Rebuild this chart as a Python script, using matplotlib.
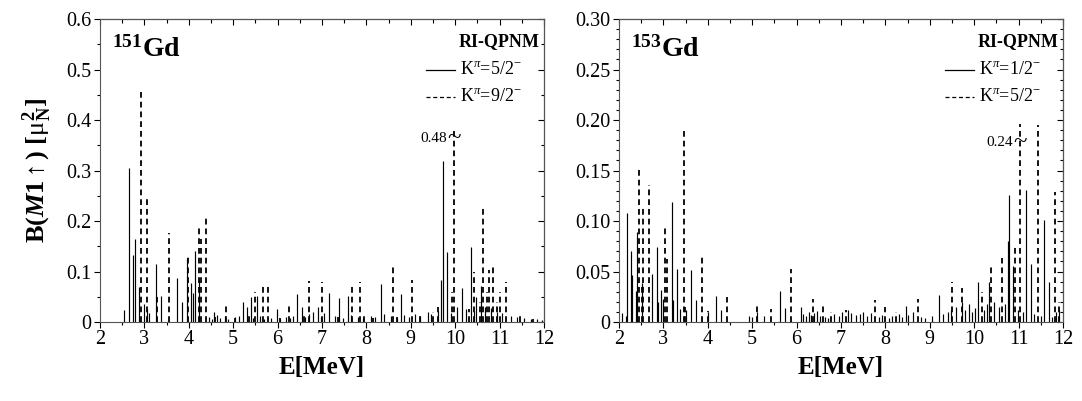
import numpy as np
import matplotlib
matplotlib.use("Agg")
from matplotlib import pyplot as plt
from matplotlib.ticker import MultipleLocator, FuncFormatter

plt.rcParams['font.family'] = ['Liberation Serif', 'DejaVu Serif']
plt.rcParams['mathtext.fontset'] = 'custom'
plt.rcParams['mathtext.rm'] = 'Liberation Serif'
plt.rcParams['mathtext.it'] = 'Liberation Serif:italic'
plt.rcParams['mathtext.bf'] = 'Liberation Serif:bold'
plt.rcParams['mathtext.bfit'] = 'Liberation Serif:italic:bold'

# ---- 151Gd, K=5/2- (solid) ----
gd151_k52_E = [2.54, 2.65, 2.75, 2.78, 2.89, 3.00, 3.05, 3.10, 3.27, 3.37, 3.74, 3.84, 3.95, 4.06,
               4.09, 4.13, 4.22, 4.57, 5.21, 5.30, 5.39, 5.53, 5.98, 6.44, 6.54, 6.80, 6.91, 7.16,
               7.39, 7.59, 8.33, 8.77, 9.69, 9.73, 9.82, 10.15, 10.36, 10.47, 10.58, 10.93]
gd151_k52_B = [0.024, 0.305, 0.133, 0.164, 0.070, 0.036, 0.025, 0.018, 0.115, 0.051, 0.087, 0.039,
               0.127, 0.077, 0.057, 0.140, 0.085, 0.020, 0.040, 0.030, 0.050, 0.052, 0.025, 0.055,
               0.030, 0.020, 0.030, 0.058, 0.047, 0.051, 0.075, 0.055, 0.083, 0.319, 0.138, 0.067,
               0.149, 0.050, 0.072, 0.020]
# weak transitions
gd151_k52_weak_E = [4.45, 4.52, 4.63, 4.70, 4.82, 4.88, 5.05, 5.12, 5.45, 5.60, 5.70, 5.85, 6.05,
                    6.18, 6.27, 6.35, 6.62, 6.70, 6.98, 7.05, 7.30, 7.48, 7.66, 7.82, 7.92, 8.10,
                    8.20, 8.40, 8.55, 8.68, 8.85, 8.95, 9.10, 9.20, 9.38, 9.45, 9.62, 9.90, 10.05,
                    10.25, 10.42, 10.68, 10.80, 11.05, 11.25, 11.40, 11.55, 11.70, 11.85, 11.95]
gd151_k52_weak_B = [0.010, 0.006, 0.014, 0.008, 0.012, 0.005, 0.009, 0.012, 0.007, 0.011, 0.006,
                    0.008, 0.005, 0.010, 0.007, 0.012, 0.009, 0.015, 0.010, 0.018, 0.012, 0.008,
                    0.014, 0.010, 0.007, 0.012, 0.009, 0.015, 0.011, 0.008, 0.013, 0.010, 0.016,
                    0.012, 0.020, 0.015, 0.022, 0.018, 0.030, 0.025, 0.022, 0.030, 0.028, 0.018,
                    0.012, 0.010, 0.008, 0.006, 0.005, 0.004]

# ---- 151Gd, K=9/2- (dashed) ----
gd151_k92_E = [2.92, 3.05, 3.28, 3.55, 3.98, 4.22, 4.28, 4.39, 4.60, 4.84, 5.05, 5.35, 5.48, 5.67,
               5.79, 6.05, 6.26, 6.60, 6.71, 7.00, 7.35, 7.67, 7.86, 7.95, 8.15, 8.59, 8.70, 9.03,
               9.20, 9.50, 9.62, 9.93, 9.98, 10.30, 10.43, 10.55, 10.62, 10.72, 10.75, 10.84,
               10.95, 11.00, 11.14, 11.45, 11.75]
gd151_k92_B = [0.456, 0.250, 0.050, 0.176, 0.130, 0.192, 0.164, 0.205, 0.010, 0.036, 0.008, 0.012,
               0.060, 0.071, 0.075, 0.008, 0.037, 0.015, 0.081, 0.080, 0.010, 0.071, 0.079, 0.012,
               0.008, 0.115, 0.010, 0.083, 0.012, 0.020, 0.030, 0.060, 0.480, 0.025, 0.100, 0.040,
               0.225, 0.060, 0.103, 0.109, 0.040, 0.060, 0.080, 0.012, 0.006]

# ---- 153Gd, K=1/2- (solid) ----
gd153_k12_E = [2.08, 2.16, 2.19, 2.27, 2.30, 2.38, 2.40, 2.51, 2.75, 2.85, 2.87, 2.95, 2.99, 3.19,
               3.21, 3.30, 3.37, 3.52, 3.62, 3.74, 4.00, 4.18, 4.29, 4.93, 5.00, 5.10, 5.27, 5.63,
               5.73, 6.09, 9.21, 9.47, 9.72, 9.88, 10.09, 10.34, 10.76, 10.78, 10.88, 11.16,
               11.28, 11.57, 11.69, 11.92]
gd153_k12_B = [0.009, 0.006, 0.108, 0.070, 0.047, 0.031, 0.089, 0.039, 0.0475, 0.074, 0.020,
               0.032, 0.023, 0.119, 0.022, 0.052, 0.013, 0.012, 0.051, 0.022, 0.010, 0.026, 0.012,
               0.006, 0.005, 0.010, 0.006, 0.031, 0.014, 0.015, 0.027, 0.012, 0.020, 0.018, 0.040,
               0.040, 0.080, 0.126, 0.055, 0.131, 0.057, 0.101, 0.040, 0.012]
gd153_k12_weak_E = [6.15, 6.22, 6.28, 6.33, 6.40, 6.45, 6.52, 6.65, 6.72, 6.85, 6.95, 7.02, 7.15,
                    7.22, 7.35, 7.42, 7.50, 7.58, 7.68, 7.85, 7.92, 8.08, 8.15, 8.30, 8.38, 8.46,
                    8.52, 8.62, 8.80, 8.90, 9.05, 9.30, 9.40, 9.60, 9.80, 9.95, 10.02, 10.22, 10.28,
                    10.45, 10.55, 10.70, 10.98, 11.10, 11.35, 11.50, 11.75, 11.85]
gd153_k12_weak_B = [0.008, 0.006, 0.010, 0.007, 0.009, 0.011, 0.006, 0.005, 0.004, 0.008, 0.006,
                    0.010, 0.012, 0.009, 0.007, 0.008, 0.010, 0.006, 0.009, 0.005, 0.007, 0.004,
                    0.006, 0.008, 0.005, 0.016, 0.007, 0.010, 0.005, 0.004, 0.006, 0.008, 0.010,
                    0.015, 0.012, 0.010, 0.014, 0.012, 0.018, 0.020, 0.015, 0.018, 0.012, 0.010,
                    0.008, 0.006, 0.005, 0.010]

# ---- 153Gd, K=5/2- (dashed) ----
gd153_k52_E = [2.45, 2.51, 2.55, 2.68, 3.03, 3.09, 3.46, 3.49, 3.88, 4.00, 4.44, 5.10, 5.42, 5.88,
               6.36, 6.59, 6.78, 7.11, 7.77, 8.00, 8.24, 8.73, 9.50, 9.73, 10.17, 10.37, 10.63,
               10.93, 11.04, 11.44, 11.83, 11.90]
gd153_k52_B = [0.152, 0.037, 0.113, 0.136, 0.093, 0.062, 0.189, 0.015, 0.064, 0.011, 0.025, 0.019,
               0.0125, 0.052, 0.0225, 0.0175, 0.010, 0.012, 0.022, 0.015, 0.010, 0.0225, 0.040,
               0.034, 0.030, 0.055, 0.063, 0.075, 0.240, 0.195, 0.129, 0.020]


def draw_panel(ax, solid, dashed, ymax, over, cut, isotope, labels, major, minor, fmt, brk):
    """solid/dashed: lists of (E, B) pairs; dashed bars above `over` are cut at `cut` (axis break)"""
    for E, B in solid:
        ax.vlines(E, 0, B, colors='k', lw=0.85)
    for E, B in dashed:
        B = np.array(B)
        B = np.where(B > over, cut, B)
        ax.vlines(E, 0, B, colors='k', lw=1.3, linestyles=(0, (3.2, 2.2)))
    ax.set_xlim(2, 12)
    ax.set_ylim(0, ymax)
    ax.xaxis.set_major_locator(MultipleLocator(1))
    ax.xaxis.set_minor_locator(MultipleLocator(0.5))
    ax.yaxis.set_major_locator(MultipleLocator(major))
    ax.yaxis.set_minor_locator(MultipleLocator(minor))
    ax.yaxis.set_major_formatter(FuncFormatter(lambda v, p: '0' if abs(v) < 1e-9 else fmt % v))
    ax.tick_params(which='both', direction='out', labelsize=14.5, width=0.8, pad=2)
    ax.tick_params(which='major', length=4)
    ax.tick_params(which='minor', length=2.5)
    for s in ax.spines.values():
        s.set_linewidth(0.8)
        s.set_color('#555555')
    top = ax.secondary_xaxis('top')
    top.xaxis.set_major_locator(MultipleLocator(1))
    top.xaxis.set_minor_locator(MultipleLocator(0.5))
    top.tick_params(which='both', direction='in', labeltop=False, width=0.8)
    top.tick_params(which='major', length=4)
    top.tick_params(which='minor', length=3)
    right = ax.secondary_yaxis('right')
    right.yaxis.set_major_locator(MultipleLocator(major))
    right.yaxis.set_minor_locator(MultipleLocator(minor))
    right.tick_params(which='both', direction='in', labelright=False, width=0.8)
    right.tick_params(which='major', length=4)
    right.tick_params(which='minor', length=2.5)

    ax.set_xlabel('E[MeV]', fontsize=18, fontweight='bold', labelpad=5)
    ax.text(0.028, 0.875, isotope, transform=ax.transAxes, fontsize=20, fontweight='bold')
    ax.text(0.99, 0.91, 'RI-QPNM', transform=ax.transAxes, ha='right', fontsize=13,
            fontweight='bold')
    ax.plot([0.735, 0.80], [0.832, 0.832], transform=ax.transAxes, color='k', lw=0.9)
    ax.plot([0.735, 0.80], [0.744, 0.744], transform=ax.transAxes, color='k', lw=0.9,
            ls=(0, (3.2, 2.2)))
    ax.text(0.81, 0.832, labels[0], transform=ax.transAxes, va='center', fontsize=13)
    ax.text(0.81, 0.744, labels[1], transform=ax.transAxes, va='center', fontsize=13)
    # break marker on the clipped bar
    bx, by, bval = brk
    ax.text(bx, by, '~', ha='center', va='center', fontsize=18)
    ax.text(bx - 0.17, by, bval, ha='right', va='center', fontsize=11)


fig = plt.figure(figsize=(10.82, 4.01), dpi=100)
ax1 = fig.add_axes([0.0924, 0.197, 0.4104, 0.7556])
ax2 = fig.add_axes([0.572, 0.197, 0.4104, 0.7556])

draw_panel(ax1,
           [(gd151_k52_E, gd151_k52_B), (gd151_k52_weak_E, gd151_k52_weak_B)],
           [(gd151_k92_E, gd151_k92_B)],
           0.6, 0.47, 0.378, r'$^{\mathbf{151}}$Gd',
           [r'K$^{\pi}$=5/2$^{-}$', r'K$^{\pi}$=9/2$^{-}$'],
           0.1, 0.05, '%.1f', (9.98, 0.364, '0.48'))
draw_panel(ax2,
           [(gd153_k12_E, gd153_k12_B), (gd153_k12_weak_E, gd153_k12_weak_B)],
           [(gd153_k52_E, gd153_k52_B)],
           0.30, 0.2, 0.196, r'$^{\mathbf{153}}$Gd',
           [r'K$^{\pi}$=1/2$^{-}$', r'K$^{\pi}$=5/2$^{-}$'],
           0.05, 0.01, '%.2f', (11.04, 0.178, '0.24'))

ax1.set_ylabel(r'$\mathbf{B(}\mathbfit{M}\mathbf{1}\uparrow\mathbf{)\ [}\mathrm{μ}_{\mathbf{N}}^{\mathbf{2}}\mathbf{]}$',
               fontsize=19, labelpad=9)

fig.savefig('out.png', dpi=100)
